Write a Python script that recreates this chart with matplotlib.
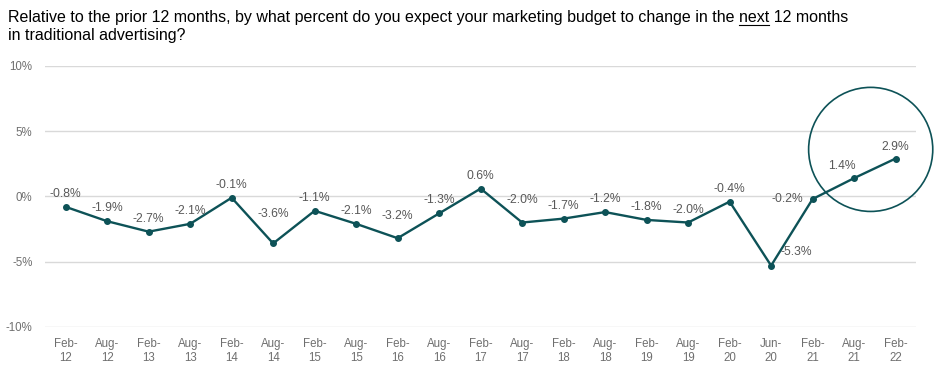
import matplotlib.pyplot as plt
from matplotlib.patches import Ellipse

plt.rcParams['font.family'] = ['Liberation Sans', 'DejaVu Sans']

# survey results, % change expected in traditional advertising budget
periods = ['Feb-\n12', 'Aug-\n12', 'Feb-\n13', 'Aug-\n13', 'Feb-\n14', 'Aug-\n14', 'Feb-\n15',
           'Aug-\n15', 'Feb-\n16', 'Aug-\n16', 'Feb-\n17', 'Aug-\n17', 'Feb-\n18', 'Aug-\n18',
           'Feb-\n19', 'Aug-\n19', 'Feb-\n20', 'Jun-\n20', 'Feb-\n21', 'Aug-\n21', 'Feb-\n22']
values = [-0.8, -1.9, -2.7, -2.1, -0.1, -3.6, -1.1, -2.1, -3.2, -1.3, 0.6,
          -2.0, -1.7, -1.2, -1.8, -2.0, -0.4, -5.3, -0.2, 1.4, 2.9]
yticks = [-10, -5, 0, 5, 10]

# label offsets in pixels (dx, dy)
offsets = [(0, 13)] * len(values)
offsets[5] = (0, 29)
offsets[8] = (0, 22)
offsets[11] = (0, 23)
offsets[17] = (25, 14)
offsets[18] = (-25, 0)
offsets[19] = (-12, 12)
offsets[20] = (0, 12)

teal = '#0d5257'
grey = '#595959'

fig = plt.figure(figsize=(9.36, 3.72), dpi=100)
ax = fig.add_axes([0.048, 0.121, 0.931, 0.702])

x = list(range(len(values)))
ax.plot(x, values, color=teal, lw=1.7, marker='o', ms=4, zorder=3)

for i, v in enumerate(values):
    ax.annotate(f'{v:.1f}%', (i, v), xytext=offsets[i], textcoords='offset pixels',
                ha='center', va='center', fontsize=8.7, color=grey)

# highlight circle around latest readings
ax.add_patch(Ellipse((19.4, 3.6), 124 / 41.45, 124 / 13.05, fill=False,
                     edgecolor=teal, lw=1.2, clip_on=False, zorder=4))

ax.set_xlim(-0.5, 20.5)
ax.set_ylim(-10, 10)
ax.set_yticks(yticks)
ax.set_yticklabels([f'{t}%' for t in yticks])
ax.set_xticks(x)
ax.set_xticklabels(periods)
ax.tick_params(axis='both', length=0, labelsize=8.3, labelcolor='#6f6f6f')
ax.tick_params(axis='x', pad=8)
ax.tick_params(axis='y', pad=9)
ax.grid(axis='y', color='#d9d9d9', lw=1)
ax.set_axisbelow(True)
for s in ax.spines.values():
    s.set_visible(False)

# title with underlined "next"
pre = 'Relative to the prior 12 months, by what percent do you expect your marketing budget to change in the '
fs = 11.55
t1 = fig.text(8 / 936, 1 - 22 / 372, pre + 'next 12 months', fontsize=fs, va='baseline', color='black')
fig.text(8 / 936, 1 - 40 / 372, 'in traditional advertising?', fontsize=fs, va='baseline', color='black')
r = fig.canvas.get_renderer()
tmp = fig.text(8 / 936, 0.5, pre + 'n', fontsize=fs)
w_pre = tmp.get_window_extent(r).width
tmp.remove()
tmp = fig.text(8 / 936, 0.5, 'n', fontsize=fs)
w_n = tmp.get_window_extent(r).width
tmp.remove()
tmp = fig.text(8 / 936, 0.5, 'next', fontsize=fs)
w_next = tmp.get_window_extent(r).width
tmp.remove()
x0 = 8 + w_pre - w_n
uy = 1 - 24.5 / 372
fig.add_artist(plt.Line2D([x0 / 936, (x0 + w_next) / 936], [uy, uy], color='black', lw=0.8))

fig.savefig('out.png', dpi=100)
